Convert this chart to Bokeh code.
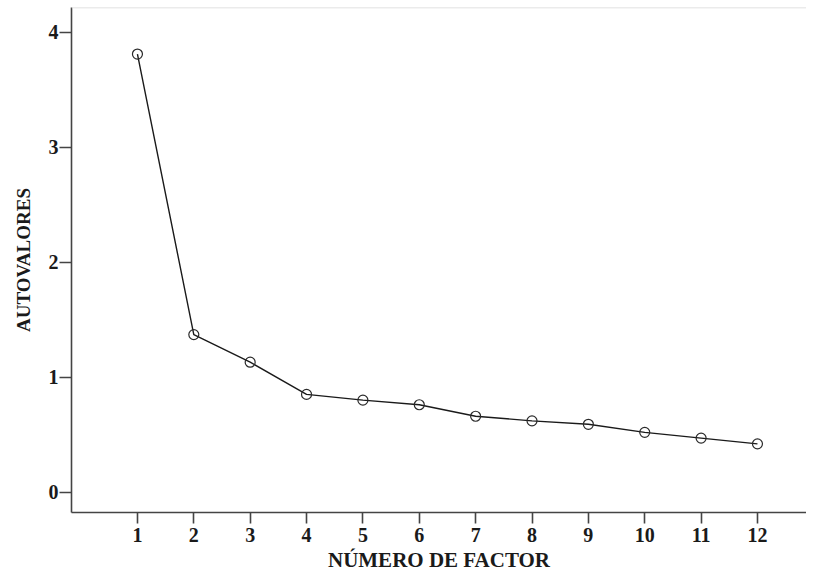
from bokeh.plotting import figure
from bokeh.models import FixedTicker, Span, Range1d
from bokeh.embed import file_html
from bokeh.resources import INLINE

factors = [1, 2, 3, 4, 5, 6, 7, 8, 9, 10, 11, 12]
eigenvalues = [3.81, 1.37, 1.13, 0.85, 0.80, 0.76, 0.66, 0.62, 0.59, 0.52, 0.47, 0.42]
y_ticks = [0, 1, 2, 3, 4]
x_label = "NÚMERO DE FACTOR"
y_label = "AUTOVALORES"

FONT = "Liberation Serif"

p = figure(width=806, height=574, output_backend="svg", toolbar_location=None,
           x_range=Range1d(-0.17, 12.87), y_range=Range1d(-0.177, 4.215),
           min_border_left=71, min_border_right=0, min_border_top=7,
           min_border_bottom=62)
p.outline_line_color = None
p.xgrid.visible = False
p.ygrid.visible = False
p.background_fill_color = "white"

p.line(factors, eigenvalues, line_color="#1a1a1a", line_width=1.4)
p.scatter(factors, eigenvalues, marker="circle", size=10, line_color="#2a2a2a",
          line_width=1.2, fill_color="white", fill_alpha=0.0)

p.add_layout(Span(location=4.215, dimension="width", line_color="#d8d8d8", line_width=1.5))

for ax in (p.xaxis[0], p.yaxis[0]):
    ax.axis_line_color = "#444444"
    ax.axis_line_width = 1.6
    ax.major_tick_line_color = "#444444"
    ax.major_tick_line_width = 1.6
    ax.major_tick_in = 0
    ax.minor_tick_line_color = None
    ax.major_label_text_font = FONT
    ax.major_label_text_font_style = "bold"
    ax.major_label_text_font_size = "20px"
    ax.major_label_text_color = "#1a1a1a"
    ax.axis_label_text_font = FONT
    ax.axis_label_text_font_style = "bold"
    ax.axis_label_text_color = "#1a1a1a"

p.xaxis[0].major_tick_out = 11
p.yaxis[0].major_tick_out = 12
p.xaxis[0].axis_label_text_font_size = "21px"
p.yaxis[0].axis_label_text_font_size = "19px"
p.xaxis[0].ticker = FixedTicker(ticks=factors)
p.yaxis[0].ticker = FixedTicker(ticks=y_ticks)
p.xaxis[0].axis_label = x_label
p.yaxis[0].axis_label = y_label
p.xaxis[0].major_label_standoff = 4
p.yaxis[0].major_label_standoff = 1
p.xaxis[0].axis_label_standoff = 3
p.yaxis[0].axis_label_standoff = 12

open("out.html", "w").write(file_html(p, INLINE))
